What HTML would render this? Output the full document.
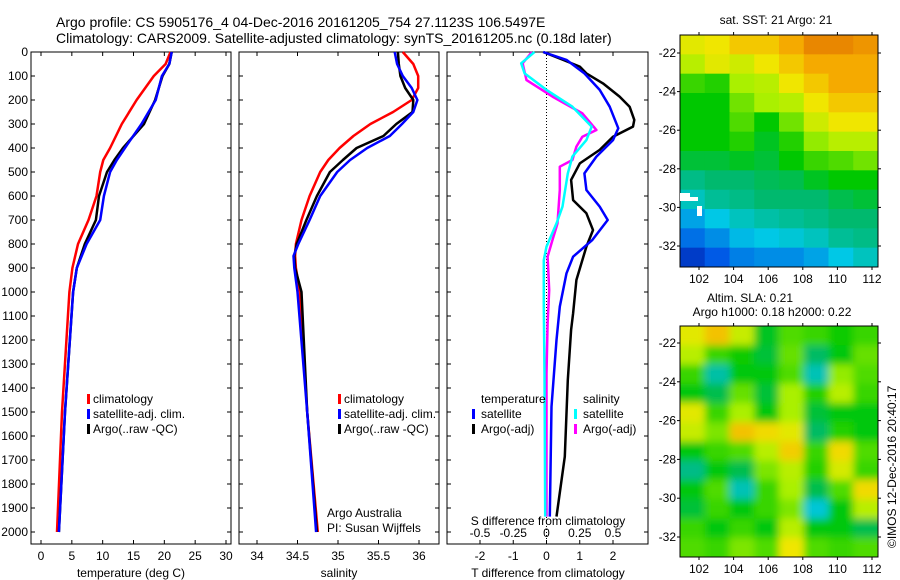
<!DOCTYPE html>
<html><head><meta charset="utf-8"><style>
body{margin:0;background:#fff;}
svg{display:block;font-family:"Liberation Sans",sans-serif;}
</style></head><body>
<svg id="c" width="900" height="580" viewBox="0 0 900 580">
<defs><filter id="bl" x="0" y="0" width="1" height="1"><feGaussianBlur stdDeviation="4"/></filter>
<clipPath id="cm1"><rect x="680" y="35" width="198" height="232"/></clipPath>
<clipPath id="cm2"><rect x="680" y="326" width="198" height="231"/></clipPath></defs>
<text x="56" y="27" font-size="14">Argo profile: CS 5905176_4 04-Dec-2016 20161205_754 27.1123S 106.5497E</text>
<text x="56" y="43" font-size="14">Climatology: CARS2009. Satellite-adjusted climatology: synTS_20161205.nc (0.18d later)</text>
</svg>
<script>
// ---- data ----
const depthClim=[0,50,100,200,300,400,450,500,600,700,800,900,1000,1500,2000];
const tempClim=[21,20.2,18.3,15.5,13.1,11.2,10.1,9.6,9.0,7.7,6.0,5.1,4.6,3.4,2.6];
const tempSat=[21.2,20.8,19.6,18.6,16.3,13.6,12.3,11.2,10.2,9.6,7.4,5.8,5.2,3.9,2.9];
const tempArgo=[21.2,20.8,19.7,18.5,16.7,13.3,11.9,10.7,9.4,8.9,7.1,5.8,5.2,3.9,2.9];
const depthSal=[0,50,100,150,200,250,300,350,400,450,500,600,700,800,850,900,1000,1500,2000];
const salClim=[35.80,35.93,35.99,35.99,35.91,35.68,35.40,35.19,35.02,34.88,34.78,34.65,34.55,34.48,34.47,34.48,34.53,34.62,34.75];
const salSat=[35.70,35.73,35.80,35.91,35.98,35.93,35.79,35.64,35.36,35.15,34.99,34.78,34.65,34.51,34.45,34.46,34.50,34.62,34.73];
const salArgo=[35.74,35.75,35.77,35.83,35.93,35.92,35.72,35.56,35.23,35.06,34.90,34.74,34.61,34.49,34.46,34.47,34.55,34.62,34.74];
const dTDepth=[0,33,89,158,228,318,367,436,506,575,644,700,783,853,922,1061,1200,1478,1936];
const dTSat=[-0.1,0.6,1.14,1.6,1.9,2.16,2.0,1.5,1.14,1.2,1.6,1.84,1.38,0.8,0.6,0.4,0.3,0.15,0.1];
const dTArgoDepth=[0,33,61,89,131,186,228,283,311,353,408,464,533,617,672,742,811,950,1089,1158,1367,1686,1936];
const dTArgo=[-0.1,0.5,1.0,1.2,1.7,2.2,2.5,2.64,2.6,2.0,1.6,1.0,0.74,0.8,1.2,1.4,1.2,0.9,0.8,0.74,0.64,0.55,0.3];
const dSDepth=[0,47,89,158,228,311,367,436,506,644,714,811,867,1061,1339,1936];
const dSSat=[-0.09,-0.19,-0.165,0,0.195,0.34,0.3,0.195,0.16,0.12,0.075,0,-0.02,-0.02,-0.015,-0.01];
const dSArgoDepth=[0,47,117,186,256,325,353,394,450,478,575,714,783,853,992,1131,1339,1936];
const dSArgo=[-0.11,-0.18,-0.15,0.045,0.27,0.375,0.27,0.225,0.195,0.1,0.1,0.083,0.045,0.008,0.02,0.008,0,0];
const depthTicks=[0,100,200,300,400,500,600,700,800,900,1000,1100,1200,1300,1400,1500,1600,1700,1800,1900,2000];
const tempTicks=[0,5,10,15,20,25,30];
const salTicks=[34,34.5,35,35.5,36];
const salTickLabels=["34","34.5","35","35.5","36"];
const dTTicks=[-2,-1,0,1,2];
const dSTicks=[-0.5,-0.25,0,0.25,0.5];
const dSTickLabels=["-0.5","-0.25","0","0.25","0.5"];
const lonTicks=[102,104,106,108,110,112];
const latTicks=[-22,-24,-26,-28,-30,-32];
const sstGrid=[
[0.78,0.8,0.85,0.85,0.9,0.95,0.95,0.93],
[0.72,0.78,0.75,0.8,0.85,0.9,0.9,0.9],
[0.6,0.58,0.7,0.72,0.8,0.85,0.9,0.9],
[0.55,0.55,0.65,0.7,0.72,0.8,0.85,0.85],
[0.55,0.55,0.62,0.55,0.65,0.75,0.8,0.8],
[0.55,0.55,0.58,0.52,0.58,0.68,0.72,0.72],
[0.5,0.5,0.52,0.5,0.55,0.6,0.62,0.65],
[0.42,0.45,0.45,0.47,0.48,0.52,0.55,0.55],
[0.35,0.4,0.42,0.45,0.45,0.45,0.48,0.5],
[0.25,0.3,0.35,0.38,0.4,0.42,0.45,0.45],
[0.18,0.22,0.28,0.3,0.32,0.35,0.4,0.42],
[0.1,0.15,0.2,0.22,0.22,0.25,0.3,0.35]];
const slaGrid=[
[0.78,0.86,0.74,0.52,0.62,0.6,0.56,0.6],
[0.72,0.6,0.56,0.5,0.64,0.46,0.54,0.64],
[0.6,0.38,0.54,0.54,0.62,0.36,0.68,0.62],
[0.54,0.48,0.64,0.5,0.7,0.58,0.72,0.6],
[0.78,0.6,0.7,0.54,0.7,0.5,0.54,0.54],
[0.74,0.66,0.86,0.82,0.78,0.46,0.58,0.54],
[0.54,0.6,0.62,0.72,0.84,0.6,0.82,0.62],
[0.42,0.54,0.48,0.66,0.72,0.58,0.76,0.6],
[0.54,0.62,0.36,0.6,0.7,0.48,0.62,0.82],
[0.5,0.6,0.54,0.6,0.66,0.32,0.54,0.72],
[0.6,0.54,0.6,0.54,0.72,0.54,0.54,0.48],
[0.62,0.6,0.66,0.62,0.8,0.62,0.6,0.62]];

// ---- helpers ----
const svg=document.getElementById('c');
const NS='http://www.w3.org/2000/svg';
function mk(tag,at,parent){const e=document.createElementNS(NS,tag);for(const k in at)e.setAttribute(k,at[k]);(parent||svg).appendChild(e);return e;}
const yD=d=>52+d*0.24;
const Y0=52,Y1=544;
function lin(d0,d1,r0,r1){return v=>r0+(v-d0)*(r1-r0)/(d1-d0);}
const xT=lin(0,30,41,226), xS=lin(34,36,257,419), xD=lin(-2,2,480,613), xDS=v=>xD(v*4);

function panel(x0,x1,name){
  const r=mk('rect',{x:x0,y:Y0,width:x1-x0,height:Y1-Y0,fill:'none',stroke:'#000','stroke-width':1});
  
  
  depthTicks.forEach(d=>{mk('line',{x1:x0,x2:x0+4,y1:yD(d),y2:yD(d),stroke:'#000'});mk('line',{x1:x1,x2:x1-4,y1:yD(d),y2:yD(d),stroke:'#000'});});
}
function xticks(ticks,labels,f,y,name){
  ticks.forEach((t,i)=>{mk('line',{x1:f(t),x2:f(t),y1:Y1,y2:Y1-4,stroke:'#000'});mk('line',{x1:f(t),x2:f(t),y1:Y0,y2:Y0+4,stroke:'#000'});
    const e=mk('text',{x:f(t),y:y,'font-size':12,'text-anchor':'middle'});e.textContent=labels[i];
    
    });
}
function line(xs,ds,fx,color,name,w){
  const pts=xs.map((v,i)=>fx(v).toFixed(1)+','+yD(ds[i]).toFixed(1)).join(' ');
  const p=mk('polyline',{points:pts,fill:'none',stroke:color,'stroke-width':w||2.5,'stroke-linejoin':'round'});
  
  
}
function txt(x,y,s,name,extra){const e=mk('text',Object.assign({x:x,y:y,'font-size':12},extra||{}));e.textContent=s;
  
  return e;}
function legMark(x,y,c){mk('rect',{x:x,y:y-9,width:3,height:10,fill:c});}

// panel 1 temperature
panel(31,231,'temperature-panel');
depthTicks.forEach(d=>txt(28,yD(d)+4,String(d),'depth-tick-label',{'text-anchor':'end'}));
xticks(tempTicks,tempTicks.map(String),xT,560,'temperature-tick-label');
txt(131,577,'temperature (deg C)','temperature-axis-title',{'text-anchor':'middle'});
line(tempClim,depthClim,xT,'#f00','temperature-climatology-line');
line(tempArgo,depthClim,xT,'#000','temperature-argo-line');
line(tempSat,depthClim,xT,'#00f','temperature-satellite-line');
[['climatology','#f00'],['satellite-adj. clim.','#00f'],['Argo(..raw -QC)','#000']].forEach((l,i)=>{legMark(87,403+i*15,l[1]);txt(93,403+i*15,l[0],'temperature-legend-entry');});

// panel 2 salinity
panel(239,439,'salinity-panel');
xticks(salTicks,salTickLabels,xS,560,'salinity-tick-label');
txt(339,577,'salinity','salinity-axis-title',{'text-anchor':'middle'});
line(salClim,depthSal,xS,'#f00','salinity-climatology-line');
line(salArgo,depthSal,xS,'#000','salinity-argo-line');
line(salSat,depthSal,xS,'#00f','salinity-satellite-line');
[['climatology','#f00'],['satellite-adj. clim.','#00f'],['Argo(..raw -QC)','#000']].forEach((l,i)=>{legMark(338,403+i*15,l[1]);txt(344,403+i*15,l[0],'salinity-legend-entry');});
txt(327,517,'Argo Australia','argo-australia-label');
txt(327,532,'PI: Susan Wijffels','pi-label');

// panel 3 differences
panel(447,648,'difference-panel');
mk('line',{x1:xD(0),x2:xD(0),y1:Y0,y2:Y1,stroke:'#000','stroke-dasharray':'1,2'});
xticks(dTTicks,dTTicks.map(String),xD,560,'t-difference-tick-label');
dSTicks.forEach((t,i)=>{const e=txt(xDS(t),537,dSTickLabels[i],'s-difference-tick-label',{'text-anchor':'middle'});});
txt(548,525,'S difference from climatology','s-difference-axis-title',{'text-anchor':'middle'});
txt(548,577,'T difference from climatology','t-difference-axis-title',{'text-anchor':'middle'});
line(dTArgo,dTArgoDepth,xD,'#000','t-diff-argo-line');
line(dTSat,dTDepth,xD,'#00f','t-diff-satellite-line');
line(dSArgo,dSArgoDepth,xDS,'#f0f','s-diff-argo-line');
line(dSSat,dSDepth,xDS,'#0ff','s-diff-satellite-line');
txt(481,403,'temperature','temp-legend-heading');
legMark(472,418,'#00f');txt(481,418,'satellite','t-satellite-legend-entry');
legMark(472,433,'#000');txt(481,433,'Argo(-adj)','t-argo-legend-entry');
txt(583,403,'salinity','sal-legend-heading');
legMark(574,418,'#0ff');txt(583,418,'satellite','s-satellite-legend-entry');
legMark(574,433,'#f0f');txt(583,433,'Argo(-adj)','s-argo-legend-entry');

// maps
function cmap(v){
  const stops=[[0,[0,0,140]],[0.15,[0,90,230]],[0.3,[0,200,230]],[0.45,[0,185,110]],[0.55,[0,200,0]],[0.7,[170,240,0]],[0.8,[240,230,0]],[0.9,[245,170,0]],[1,[220,100,0]]];
  for(let i=1;i<stops.length;i++){if(v<=stops[i][0]){const a=stops[i-1],b=stops[i],t=(v-a[0])/(b[0]-a[0]);
    return 'rgb('+a[1].map((c,j)=>Math.round(c+(b[1][j]-c)*t)).join(',')+')';}}
  return 'rgb(220,100,0)';
}
function map(grid,x0,y0,w,h,lat22,lat32,clip,blur,name){
  const g=mk('g',{'clip-path':'url(#'+clip+')'});
  
  
  const inner=blur?mk('g',{filter:'url(#bl)'},g):g;
  const rows=grid.length,cols=grid[0].length,cw=w/cols,ch=h/rows;
  if(blur) mk('rect',{x:x0-20,y:y0-20,width:w+40,height:h+40,fill:cmap(0.6)},inner);
  grid.forEach((row,r)=>row.forEach((v,c)=>{
    const ex=blur?(c==0?-20:0):0,ey=blur?(r==0?-20:0):0;
    mk('rect',{x:x0+c*cw+ex,y:y0+r*ch+ey,width:cw+1-ex+(blur&&c==cols-1?20:0),height:ch+1-ey+(blur&&r==rows-1?20:0),fill:cmap(v)},inner);}));
  mk('rect',{x:x0,y:y0,width:w,height:h,fill:'none',stroke:'#000'});
  const lx=lin(102,112,699,872), ly=lin(-22,-32,lat22,lat32);
  lonTicks.forEach(t=>{mk('line',{x1:lx(t),x2:lx(t),y1:y0+h,y2:y0+h+3,stroke:'#000'});mk('line',{x1:lx(t),x2:lx(t),y1:y0,y2:y0-3,stroke:'#000'});
    txt(lx(t),y0+h+16,String(t),'longitude-tick-label',{'text-anchor':'middle'});});
  latTicks.forEach(t=>{mk('line',{x1:x0,x2:x0-3,y1:ly(t),y2:ly(t),stroke:'#000'});mk('line',{x1:x0+w,x2:x0+w+3,y1:ly(t),y2:ly(t),stroke:'#000'});
    txt(x0-4,ly(t)+4,String(t),'latitude-tick-label',{'text-anchor':'end'});});
}
map(sstGrid,680,35,198,232,53,246,'cm1',false,'sst-map');
mk('rect',{x:680,y:193,width:10,height:8,fill:'#fff'});
mk('rect',{x:690,y:197,width:8,height:4,fill:'#fff'});
mk('rect',{x:697,y:206,width:5,height:10,fill:'#fff'});
txt(776,24,'sat. SST: 21 Argo: 21','sst-map-title',{'text-anchor':'middle'});
map(slaGrid,680,326,198,231,343,537,'cm2',true,'sla-map');
txt(750,302,'Altim. SLA: 0.21','sla-map-title',{'text-anchor':'middle'});
txt(772,316,'Argo h1000: 0.18 h2000: 0.22','argo-height-label',{'text-anchor':'middle'});
txt(0,0,'©IMOS 12-Dec-2016 20:40:17','imos-credit',{transform:'translate(896,548) rotate(-90)'});
</script>
</body></html>
